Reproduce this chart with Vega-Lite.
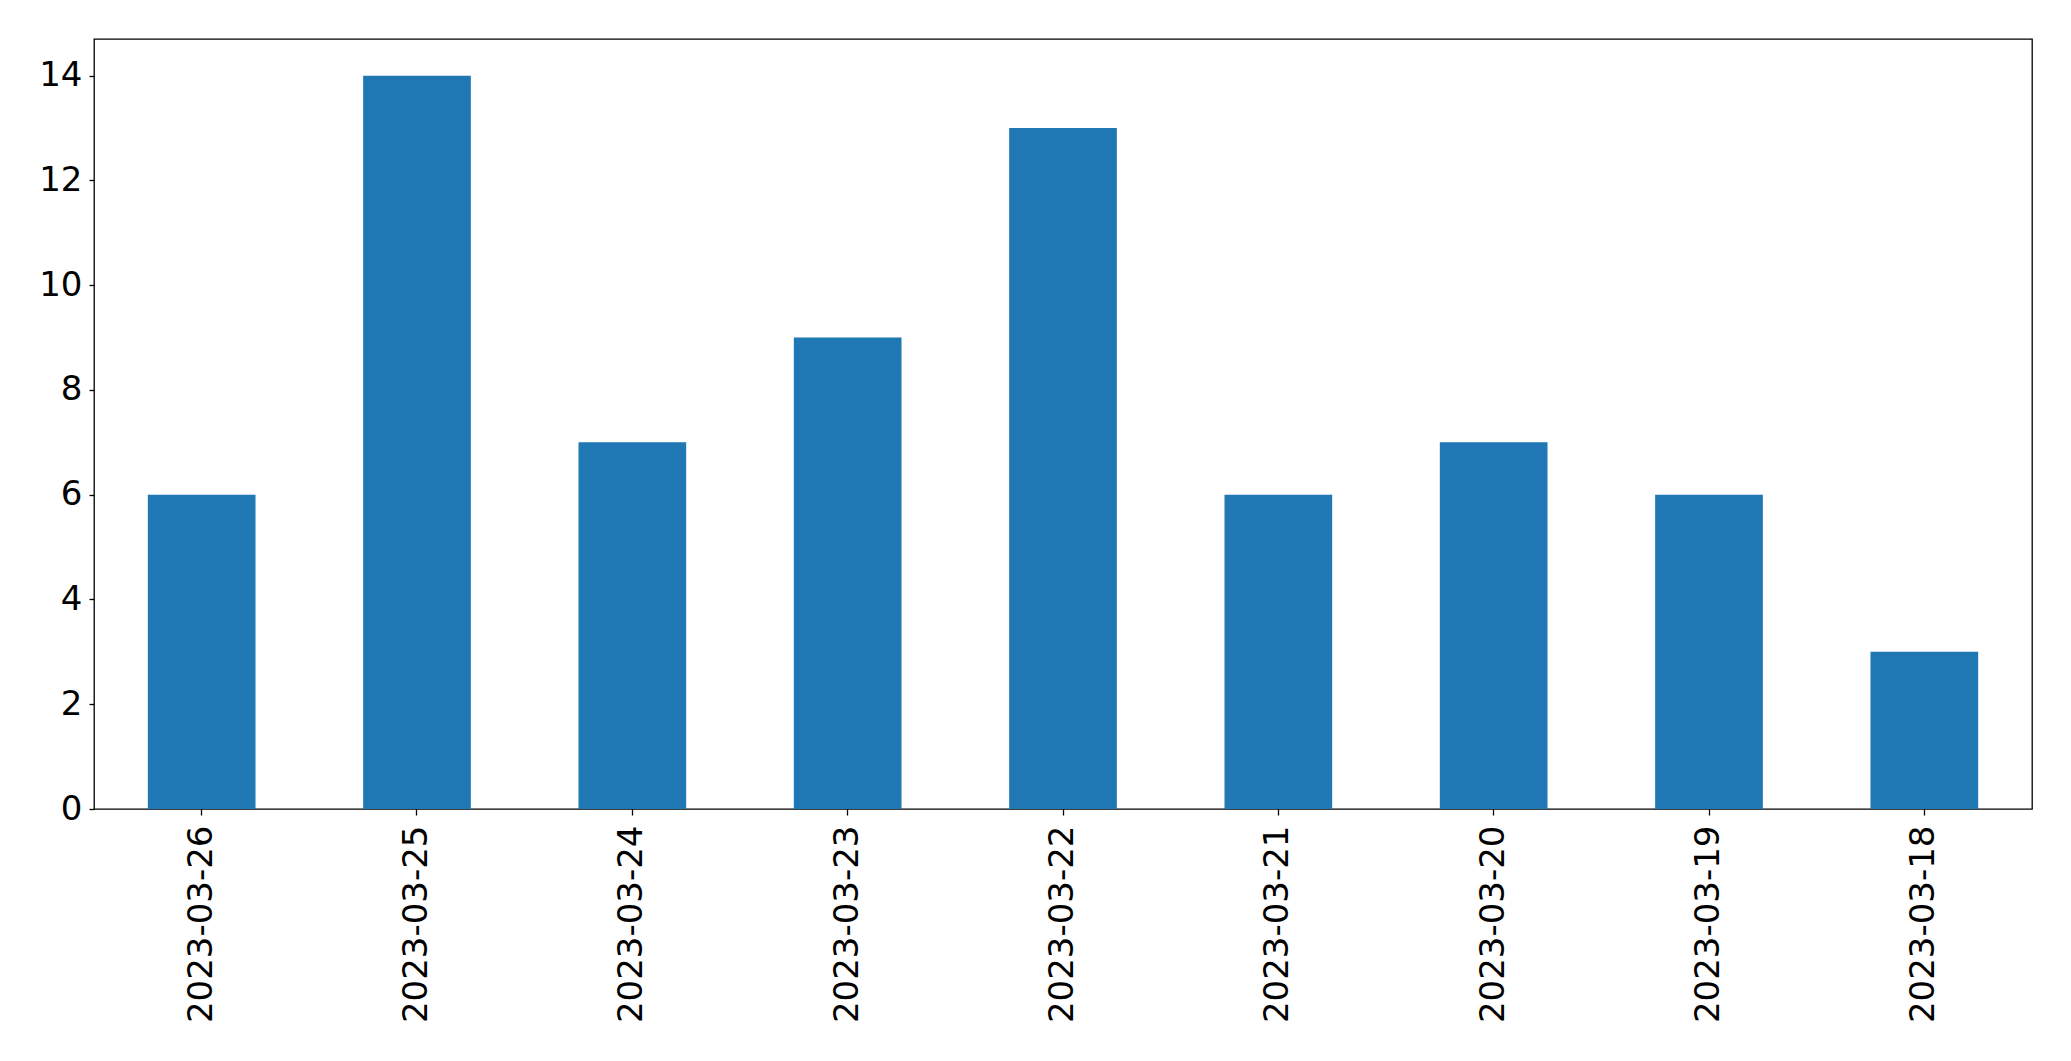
{
  "$schema": "https://vega.github.io/schema/vega-lite/v6.json",
  "width": 1938,
  "height": 770,
  "autosize": {"type": "none"},
  "padding": {"left": 94, "top": 39, "right": 39, "bottom": 252},
  "background": "white",
  "config": {
    "view": {"stroke": "black", "strokeWidth": 1.3},
    "axis": {
      "labelFont": "DejaVu Sans",
      "labelFontSize": 34,
      "labelColor": "black",
      "labelLimit": 0,
      "tickColor": "black",
      "tickWidth": 1.3,
      "domain": false,
      "grid": false,
      "title": null
    }
  },
  "data": {
    "values": [
      {"date": "2023-03-26", "count": 6},
      {"date": "2023-03-25", "count": 14},
      {"date": "2023-03-24", "count": 7},
      {"date": "2023-03-23", "count": 9},
      {"date": "2023-03-22", "count": 13},
      {"date": "2023-03-21", "count": 6},
      {"date": "2023-03-20", "count": 7},
      {"date": "2023-03-19", "count": 6},
      {"date": "2023-03-18", "count": 3}
    ]
  },
  "mark": {"type": "bar", "color": "#1f77b4"},
  "encoding": {
    "x": {
      "field": "date",
      "type": "nominal",
      "sort": null,
      "scale": {"paddingInner": 0.5, "paddingOuter": 0.25},
      "axis": {"labelAngle": -90, "tickSize": 6, "labelPadding": 10}
    },
    "y": {
      "field": "count",
      "type": "quantitative",
      "scale": {"domain": [0, 14.7], "nice": false},
      "axis": {"values": [0, 2, 4, 6, 8, 10, 12, 14], "tickSize": 5, "labelPadding": 7}
    }
  }
}
